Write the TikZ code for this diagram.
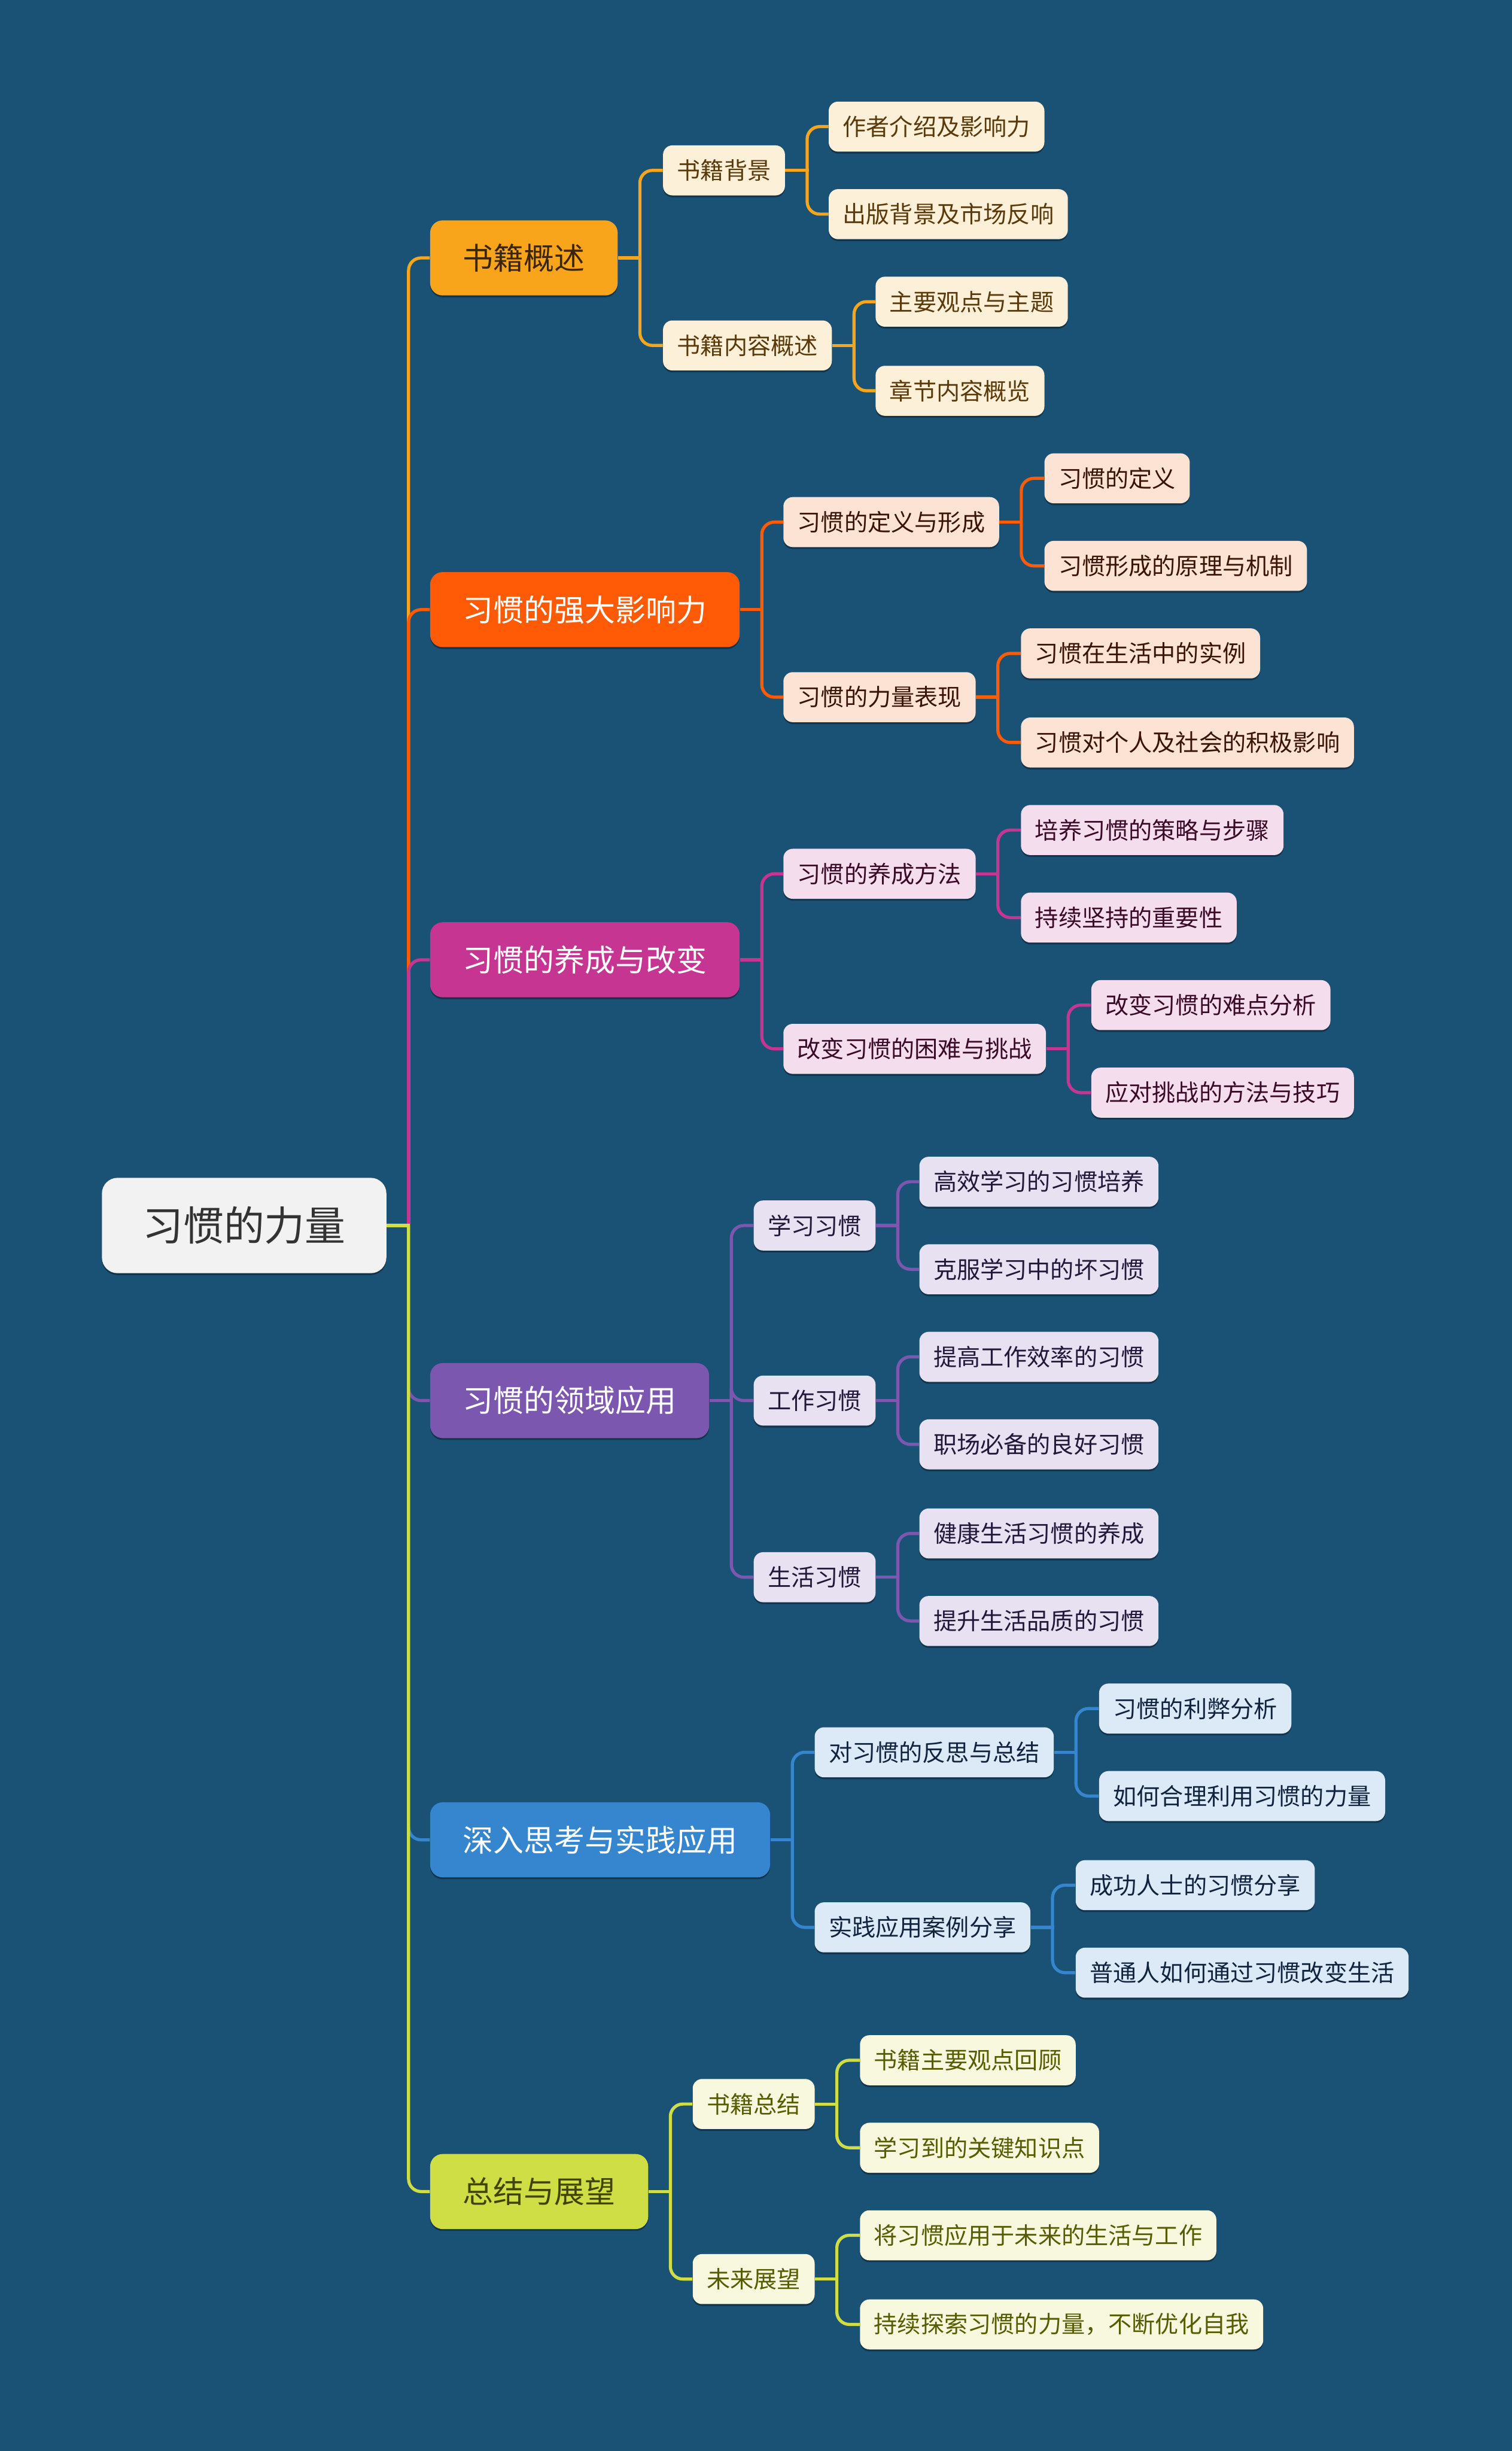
\documentclass[tikz,border=0pt]{standalone}
\usepackage{fontspec}
\newfontfamily\cjk{Noto Sans CJK SC}
\usetikzlibrary{shadows,calc}
\definecolor{bg}{RGB}{26,82,118}
\definecolor{rootfill}{HTML}{F2F2F2}
\definecolor{roottext}{HTML}{333333}
\definecolor{ca}{HTML}{F9A51B}\definecolor{la}{HTML}{FDF0D8}\definecolor{ta}{HTML}{5A3A0A}
\definecolor{cb}{HTML}{FF5A05}\definecolor{lb}{HTML}{FDE3D4}\definecolor{tb}{HTML}{3A1405}
\definecolor{cc}{HTML}{C63592}\definecolor{lc}{HTML}{F4DDED}\definecolor{tc}{HTML}{3A0A28}
\definecolor{cd}{HTML}{7C57AF}\definecolor{ld}{HTML}{E8E1F2}\definecolor{td}{HTML}{22183A}
\definecolor{ce}{HTML}{3585CF}\definecolor{le}{HTML}{DCE9F6}\definecolor{te}{HTML}{10233F}
\definecolor{cf}{HTML}{CFDE45}\definecolor{lf}{HTML}{F7F8DE}\definecolor{tf}{HTML}{575C00}
\definecolor{ta1}{HTML}{3B2600}\definecolor{tf1}{HTML}{3F4400}
\tikzset{
  boxbase/.style={anchor=west, inner ysep=0pt, drop shadow={shadow xshift=0pt,shadow yshift=-1.2pt,opacity=.35,fill=black}},
  rootbox/.style={boxbase, fill=rootfill, text=roottext, rounded corners=10pt, inner xsep=26pt, minimum height=61pt, font=\cjk\fontsize{26}{26}\selectfont},
  mainbox/.style={boxbase, fill=#1, rounded corners=8pt, inner xsep=21pt, minimum height=48pt, font=\cjk\fontsize{19.5}{19.5}\selectfont},
  subbox/.style 2 args={boxbase, fill=#1, text=#2, rounded corners=6pt, inner xsep=9pt, minimum height=32pt, font=\cjk\fontsize{15}{15}\selectfont},
  link/.style={draw=#1, line width=2pt},
}
\newcommand\conn[3]{%
  \draw[link=#1] (#2.east) -- ++(15,0);
  \draw[link=#1, rounded corners=8pt] ($(#2.east)+(14,0)$) |- (#3.west);}
\begin{document}
\begin{tikzpicture}[x=1pt,y=-1pt]
\useasboundingbox (0,0) rectangle (967,1568);
\fill[bg] (-10,-10) rectangle (977,1578);

% root
\node[rootbox] (root) at (65,784) {习惯的力量};

% level 1
\node[mainbox=ca, text=ta1] (A) at (275,165) {书籍概述};
\node[mainbox=cb, text=white] (B) at (275,390) {习惯的强大影响力};
\node[mainbox=cc, text=white] (C) at (275,614) {习惯的养成与改变};
\node[mainbox=cd, text=white] (D) at (275,896) {习惯的领域应用};
\node[mainbox=ce, text=white] (E) at (275,1177) {深入思考与实践应用};
\node[mainbox=cf, text=tf1] (F) at (275,1402) {总结与展望};

% level 2
\node[subbox={la}{ta}] (A1) at (424,109) {书籍背景};
\node[subbox={la}{ta}] (A2) at (424,221) {书籍内容概述};
\node[subbox={lb}{tb}] (B1) at (501,334) {习惯的定义与形成};
\node[subbox={lb}{tb}] (B2) at (501,446) {习惯的力量表现};
\node[subbox={lc}{tc}] (C1) at (501,559) {习惯的养成方法};
\node[subbox={lc}{tc}] (C2) at (501,671) {改变习惯的困难与挑战};
\node[subbox={ld}{td}] (D1) at (482,784) {学习习惯};
\node[subbox={ld}{td}] (D2) at (482,896) {工作习惯};
\node[subbox={ld}{td}] (D3) at (482,1009) {生活习惯};
\node[subbox={le}{te}] (E1) at (521,1121) {对习惯的反思与总结};
\node[subbox={le}{te}] (E2) at (521,1233) {实践应用案例分享};
\node[subbox={lf}{tf}] (F1) at (443,1346) {书籍总结};
\node[subbox={lf}{tf}] (F2) at (443,1458) {未来展望};

% level 3
\node[subbox={la}{ta}] (A1a) at (530,81) {作者介绍及影响力};
\node[subbox={la}{ta}] (A1b) at (530,137) {出版背景及市场反响};
\node[subbox={la}{ta}] (A2a) at (560,193) {主要观点与主题};
\node[subbox={la}{ta}] (A2b) at (560,250) {章节内容概览};
\node[subbox={lb}{tb}] (B1a) at (668,306) {习惯的定义};
\node[subbox={lb}{tb}] (B1b) at (668,362) {习惯形成的原理与机制};
\node[subbox={lb}{tb}] (B2a) at (653,418) {习惯在生活中的实例};
\node[subbox={lb}{tb}] (B2b) at (653,475) {习惯对个人及社会的积极影响};
\node[subbox={lc}{tc}] (C1a) at (653,531) {培养习惯的策略与步骤};
\node[subbox={lc}{tc}] (C1b) at (653,587) {持续坚持的重要性};
\node[subbox={lc}{tc}] (C2a) at (698,643) {改变习惯的难点分析};
\node[subbox={lc}{tc}] (C2b) at (698,699) {应对挑战的方法与技巧};
\node[subbox={ld}{td}] (D1a) at (588,756) {高效学习的习惯培养};
\node[subbox={ld}{td}] (D1b) at (588,812) {克服学习中的坏习惯};
\node[subbox={ld}{td}] (D2a) at (588,868) {提高工作效率的习惯};
\node[subbox={ld}{td}] (D2b) at (588,924) {职场必备的良好习惯};
\node[subbox={ld}{td}] (D3a) at (588,981) {健康生活习惯的养成};
\node[subbox={ld}{td}] (D3b) at (588,1037) {提升生活品质的习惯};
\node[subbox={le}{te}] (E1a) at (703,1093) {习惯的利弊分析};
\node[subbox={le}{te}] (E1b) at (703,1149) {如何合理利用习惯的力量};
\node[subbox={le}{te}] (E2a) at (688,1206) {成功人士的习惯分享};
\node[subbox={le}{te}] (E2b) at (688,1262) {普通人如何通过习惯改变生活};
\node[subbox={lf}{tf}] (F1a) at (550,1318) {书籍主要观点回顾};
\node[subbox={lf}{tf}] (F1b) at (550,1374) {学习到的关键知识点};
\node[subbox={lf}{tf}] (F2a) at (550,1430) {将习惯应用于未来的生活与工作};
\node[subbox={lf}{tf}] (F2b) at (550,1487) {持续探索习惯的力量，不断优化自我};

% connectors root -> level 1 (drawn in order so colours overlap as in reference)
\conn{ca}{root}{A}
\conn{cb}{root}{B}
\conn{cc}{root}{C}
\conn{cd}{root}{D}
\conn{ce}{root}{E}
\conn{cf}{root}{F}

% level 1 -> level 2
\conn{ca}{A}{A1}\conn{ca}{A}{A2}
\conn{cb}{B}{B1}\conn{cb}{B}{B2}
\conn{cc}{C}{C1}\conn{cc}{C}{C2}
\conn{cd}{D}{D1}\conn{cd}{D}{D2}\conn{cd}{D}{D3}
\conn{ce}{E}{E1}\conn{ce}{E}{E2}
\conn{cf}{F}{F1}\conn{cf}{F}{F2}

% level 2 -> level 3
\conn{ca}{A1}{A1a}\conn{ca}{A1}{A1b}
\conn{ca}{A2}{A2a}\conn{ca}{A2}{A2b}
\conn{cb}{B1}{B1a}\conn{cb}{B1}{B1b}
\conn{cb}{B2}{B2a}\conn{cb}{B2}{B2b}
\conn{cc}{C1}{C1a}\conn{cc}{C1}{C1b}
\conn{cc}{C2}{C2a}\conn{cc}{C2}{C2b}
\conn{cd}{D1}{D1a}\conn{cd}{D1}{D1b}
\conn{cd}{D2}{D2a}\conn{cd}{D2}{D2b}
\conn{cd}{D3}{D3a}\conn{cd}{D3}{D3b}
\conn{ce}{E1}{E1a}\conn{ce}{E1}{E1b}
\conn{ce}{E2}{E2a}\conn{ce}{E2}{E2b}
\conn{cf}{F1}{F1a}\conn{cf}{F1}{F1b}
\conn{cf}{F2}{F2a}\conn{cf}{F2}{F2b}
\end{tikzpicture}
\end{document}
